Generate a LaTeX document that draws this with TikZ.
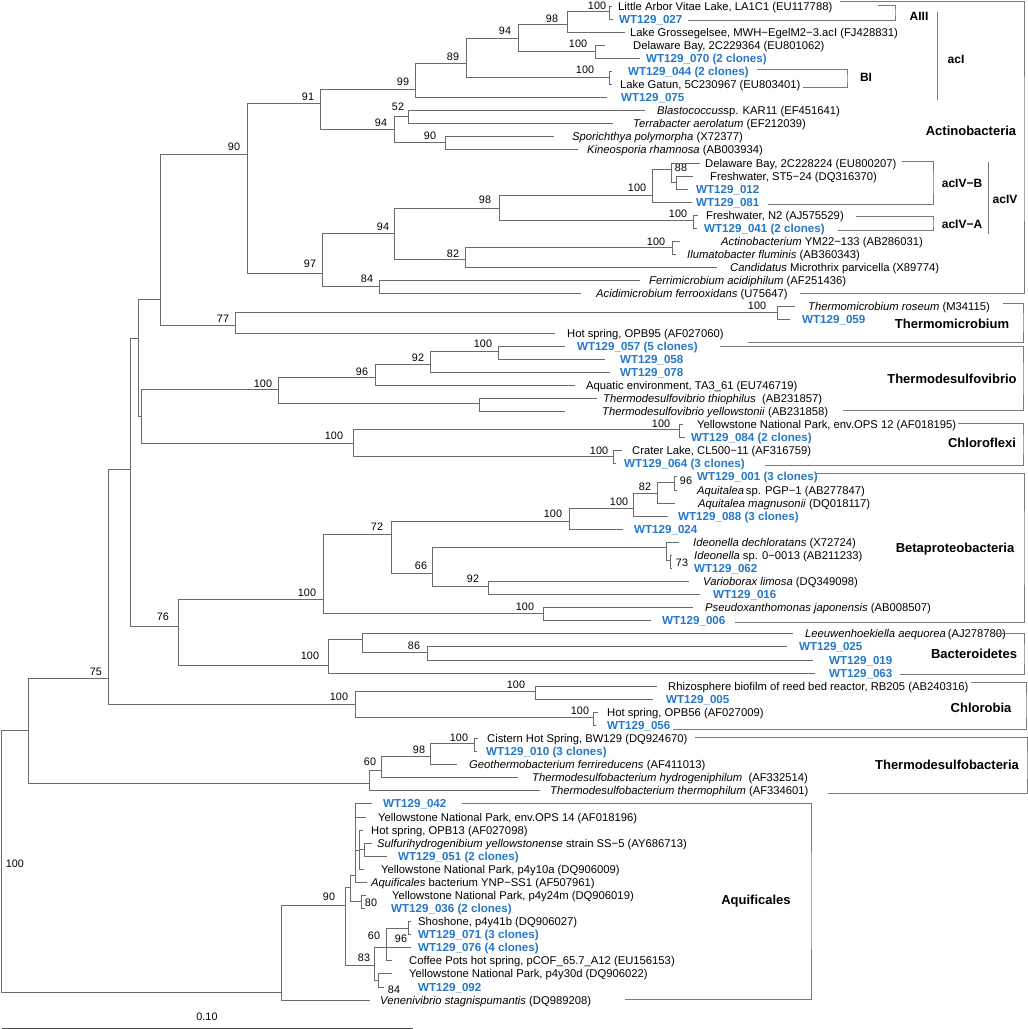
\documentclass[tikz,border=0pt]{standalone}
\usepackage{fontspec}
\setmainfont{Liberation Sans}
\usepackage{xcolor}
\usepackage{tikz}
\definecolor{wtblue}{RGB}{38,120,200}
\tikzset{
  br/.style={draw=black!58, line width=0.9pt},
  bx/.style={draw=black!52, line width=0.9pt},
  lab/.style={anchor=base west, yshift=-4pt, inner sep=0pt, font=\fontsize{11.25}{13}\selectfont},
  wt/.style={lab, text=wtblue, font=\fontsize{11.6}{13}\selectfont\bfseries},
  bs/.style={anchor=base, yshift=-3.9pt, inner sep=0pt, font=\fontsize{10.8}{12}\selectfont},
  clade/.style={anchor=base, yshift=-4.6pt, inner sep=0pt, font=\fontsize{13}{15}\selectfont\bfseries},
  sub/.style={anchor=base, yshift=-4.3pt, inner sep=0pt, font=\fontsize{12}{14}\selectfont\bfseries}
}
\begin{document}
\begin{tikzpicture}[x=1pt, y=-1pt]
\useasboundingbox (0,0) rectangle (1028,1029);

\coordinate (root) at (1,861);
\coordinate (nf) at (28,730);
\coordinate (nd) at (108,678);
\coordinate (nc) at (130,469);
\coordinate (na) at (138,338);
\coordinate (nat) at (160,299);
\coordinate (n90a) at (247,154);
\coordinate (n91) at (320,103);
\coordinate (n99) at (415,89);
\coordinate (n89) at (466,63);
\coordinate (n94a) at (518,38);
\coordinate (n98a) at (567,24);
\coordinate (n100a) at (609,11);
\coordinate (n100b) at (595,51);
\coordinate (n100c) at (609,77);
\coordinate (n94b) at (394,129);
\coordinate (n52) at (408,116);
\coordinate (n90b) at (445,142);
\coordinate (n97) at (322,273);
\coordinate (n94c) at (394,233);
\coordinate (n98b) at (499,208);
\coordinate (n100d) at (652,195);
\coordinate (n88) at (671,169);
\coordinate (nst) at (676,182);
\coordinate (n100e) at (693,220);
\coordinate (n82a) at (465,259);
\coordinate (n100f) at (672,247);
\coordinate (n84a) at (379,286);
\coordinate (n77) at (235,325);
\coordinate (n100g) at (777,312);
\coordinate (nb) at (141,416);
\coordinate (n100h) at (278,389);
\coordinate (n96a) at (375,377);
\coordinate (n92a) at (430,364);
\coordinate (n100i) at (498,351);
\coordinate (ntt) at (479,403);
\coordinate (n100j) at (353,443);
\coordinate (n100k) at (679,429);
\coordinate (n100l) at (613,456);
\coordinate (n76) at (178,626);
\coordinate (n100m) at (323,599);
\coordinate (n72) at (391,534);
\coordinate (n100n) at (569,521);
\coordinate (n100o) at (633,508);
\coordinate (n82b) at (657,493);
\coordinate (n96b) at (674,482);
\coordinate (n66) at (432,573);
\coordinate (nid) at (666,547);
\coordinate (n73) at (670,560);
\coordinate (n92b) at (488,586);
\coordinate (n100p) at (543,613);
\coordinate (n100q) at (328,665);
\coordinate (nlee) at (362,639);
\coordinate (n86) at (427,652);
\coordinate (n100r) at (355,704);
\coordinate (n100s) at (535,691);
\coordinate (n100t) at (593,717);
\coordinate (ne) at (369,783);
\coordinate (n60a) at (381,770);
\coordinate (n98c) at (430,756);
\coordinate (n100u) at (474,743);
\coordinate (ng) at (281,992);
\coordinate (n90c) at (345,905);
\coordinate (nm) at (350,887);
\coordinate (ni) at (355,875);
\coordinate (nj) at (359,850);
\coordinate (nk) at (364,849);
\coordinate (n80) at (361,901);
\coordinate (n83) at (374,965);
\coordinate (n60b) at (386,947);
\coordinate (n96c) at (408,928);
\coordinate (n84b) at (378,980);

\coordinate (l01) at (612,6.0);
\coordinate (l02) at (613,19.1);
\coordinate (l03) at (625,32.2);
\coordinate (l04) at (605,45.2);
\coordinate (l05) at (640,58.3);
\coordinate (l06) at (612,71.4);
\coordinate (l07) at (612,84.5);
\coordinate (l08) at (607,97.6);
\coordinate (l09) at (645,110.6);
\coordinate (l10) at (613,123.7);
\coordinate (l11) at (554,136.8);
\coordinate (l12) at (578,149.9);
\coordinate (l13) at (700,163.0);
\coordinate (l14) at (693,176.0);
\coordinate (l15) at (688,189.1);
\coordinate (l16) at (692,202.2);
\coordinate (l17) at (698,215.3);
\coordinate (l18) at (697,228.4);
\coordinate (l19) at (680,241.4);
\coordinate (l20) at (676,254.5);
\coordinate (l21) at (717,267.6);
\coordinate (l22) at (640,280.7);
\coordinate (l23) at (581,293.8);
\coordinate (l24) at (795,306.8);
\coordinate (l25) at (790,319.9);
\coordinate (l26) at (555,333.0);
\coordinate (l27) at (565,346.1);
\coordinate (l28) at (605,359.2);
\coordinate (l29) at (610,372.2);
\coordinate (l30) at (575,385.3);
\coordinate (l31) at (597,398.4);
\coordinate (l32) at (565,411.5);
\coordinate (l33) at (683,424.6);
\coordinate (l34) at (685,437.6);
\coordinate (l35) at (622,450.7);
\coordinate (l36) at (616,463.8);
\coordinate (l37) at (677,476.9);
\coordinate (l38) at (677,490.0);
\coordinate (l39) at (675,503.0);
\coordinate (l40) at (668,516.1);
\coordinate (l41) at (623,529.2);
\coordinate (l42) at (679,542.3);
\coordinate (l43) at (672,555.4);
\coordinate (l44) at (672,568.4);
\coordinate (l45) at (689,581.5);
\coordinate (l46) at (700,594.6);
\coordinate (l47) at (693,607.7);
\coordinate (l48) at (651,620.8);
\coordinate (l49) at (793,633.8);
\coordinate (l50) at (787,646.9);
\coordinate (l51) at (813,660.0);
\coordinate (l52) at (815,673.1);
\coordinate (l53) at (657,686.2);
\coordinate (l54) at (653,699.2);
\coordinate (l55) at (598,712.3);
\coordinate (l56) at (596,725.4);
\coordinate (l57) at (478,738.5);
\coordinate (l58) at (477,751.6);
\coordinate (l59) at (457,764.6);
\coordinate (l60) at (518,777.7);
\coordinate (l61) at (540,790.8);
\coordinate (l62) at (372,803.9);
\coordinate (l63) at (366,817.0);
\coordinate (l64) at (363,830.0);
\coordinate (l65) at (372,843.1);
\coordinate (l66) at (387,856.2);
\coordinate (l67) at (364,869.3);
\coordinate (l68) at (367,882.4);
\coordinate (l69) at (366,895.4);
\coordinate (l70) at (365,908.5);
\coordinate (l71) at (411,921.6);
\coordinate (l72) at (411,934.7);
\coordinate (l73) at (411,947.8);
\coordinate (l74) at (392,960.8);
\coordinate (l75) at (392,973.9);
\coordinate (l76) at (384,987.0);
\coordinate (l77) at (370,1000.1);

\node[lab] (t01) at (618,6.0) {Little Arbor Vitae Lake, LA1C1 (EU117788)};
\node[wt] (t02) at (619,19.1) {WT129\_027};
\node[lab] (t03) at (630,32.2) {Lake Grossegelsee, MWH−EgelM2−3.acI (FJ428831)};
\node[lab] (t04) at (633,45.2) {Delaware Bay, 2C229364 (EU801062)};
\node[wt] (t05) at (646,58.3) {WT129\_070 (2 clones)};
\node[wt] (t06) at (628,71.4) {WT129\_044 (2 clones)};
\node[lab] (t07) at (620,84.5) {Lake Gatun, 5C230967 (EU803401)};
\node[wt] (t08) at (621,97.6) {WT129\_075};
\node[lab] (t09) at (657,110.6) {\textit{Blastococcus}sp. KAR11 (EF451641)};
\node[lab] (t10) at (633,123.7) {\textit{Terrabacter aerolatum} (EF212039)};
\node[lab] (t11) at (572,136.8) {\textit{Sporichthya polymorpha} (X72377)};
\node[lab] (t12) at (587,149.9) {\textit{Kineosporia rhamnosa} (AB003934)};
\node[lab] (t13) at (705,163.0) {Delaware Bay, 2C228224 (EU800207)};
\node[lab] (t14) at (710,176.0) {Freshwater, ST5−24 (DQ316370)};
\node[wt] (t15) at (696,189.1) {WT129\_012};
\node[wt] (t16) at (696,202.2) {WT129\_081};
\node[lab] (t17) at (706,215.3) {Freshwater, N2 (AJ575529)};
\node[wt] (t18) at (704,228.4) {WT129\_041 (2 clones)};
\node[lab] (t19) at (721,241.4) {\textit{Actinobacterium} YM22−133 (AB286031)};
\node[lab] (t20) at (687,254.5) {\textit{Ilumatobacter fluminis} (AB360343)};
\node[lab] (t21) at (730,267.6) {\textit{Candidatus} Microthrix parvicella (X89774)};
\node[lab] (t22) at (649,280.7) {\textit{Ferrimicrobium acidiphilum} (AF251436)};
\node[lab] (t23) at (596,293.8) {\textit{Acidimicrobium ferrooxidans} (U75647)};
\node[lab] (t24) at (808,306.8) {\textit{Thermomicrobium roseum} (M34115)};
\node[wt] (t25) at (802,319.9) {WT129\_059};
\node[lab] (t26) at (567,333.0) {Hot spring, OPB95 (AF027060)};
\node[wt] (t27) at (577,346.1) {WT129\_057 (5 clones)};
\node[wt] (t28) at (620,359.2) {WT129\_058};
\node[wt] (t29) at (620,372.2) {WT129\_078};
\node[lab] (t30) at (586,385.3) {Aquatic environment, TA3\_61 (EU746719)};
\node[lab] (t31) at (603,398.4) {\textit{Thermodesulfovibrio thiophilus}\ \ (AB231857)};
\node[lab] (t32) at (602,411.5) {\textit{Thermodesulfovibrio yellowstonii} (AB231858)};
\node[lab] (t33) at (697,424.6) {Yellowstone National Park, env.OPS 12 (AF018195)};
\node[wt] (t34) at (691,437.6) {WT129\_084 (2 clones)};
\node[lab] (t35) at (632,450.7) {Crater Lake, CL500−11 (AF316759)};
\node[wt] (t36) at (624,463.8) {WT129\_064 (3 clones)};
\node[wt] (t37) at (697,476.9) {WT129\_001 (3 clones)};
\node[lab] (t38) at (697,490.0) {\textit{Aquitalea}\,sp. PGP−1 (AB277847)};
\node[lab] (t39) at (698,503.0) {\textit{Aquitalea magnusonii} (DQ018117)};
\node[wt] (t40) at (678,516.1) {WT129\_088 (3 clones)};
\node[wt] (t41) at (634,529.2) {WT129\_024};
\node[lab] (t42) at (693,542.3) {\textit{Ideonella dechloratans} (X72724)};
\node[lab] (t43) at (694,555.4) {\textit{Ideonella} sp. 0−0013 (AB211233)};
\node[wt] (t44) at (694,568.4) {WT129\_062};
\node[lab] (t45) at (703,581.5) {\textit{Varioborax limosa} (DQ349098)};
\node[wt] (t46) at (713,594.6) {WT129\_016};
\node[lab] (t47) at (705,607.7) {\textit{Pseudoxanthomonas japonensis} (AB008507)};
\node[wt] (t48) at (662,620.8) {WT129\_006};
\node[lab] (t49) at (805,633.8) {\textit{Leeuwenhoekiella aequorea}\,(AJ278780)};
\node[wt] (t50) at (799,646.9) {WT129\_025};
\node[wt] (t51) at (829,660.0) {WT129\_019};
\node[wt] (t52) at (829,673.1) {WT129\_063};
\node[lab] (t53) at (668,686.2) {Rhizosphere biofilm of reed bed reactor, RB205 (AB240316)};
\node[wt] (t54) at (666,699.2) {WT129\_005};
\node[lab] (t55) at (607,712.3) {Hot spring, OPB56 (AF027009)};
\node[wt] (t56) at (607,725.4) {WT129\_056};
\node[lab] (t57) at (487,738.5) {Cistern Hot Spring, BW129 (DQ924670)};
\node[wt] (t58) at (486,751.6) {WT129\_010 (3 clones)};
\node[lab] (t59) at (469,764.6) {\textit{Geothermobacterium ferrireducens} (AF411013)};
\node[lab] (t60) at (532,777.7) {\textit{Thermodesulfobacterium hydrogeniphilum}\ \ (AF332514)};
\node[lab] (t61) at (550,790.8) {\textit{Thermodesulfobacterium thermophilum} (AF334601)};
\node[wt] (t62) at (383,803.9) {WT129\_042};
\node[lab] (t63) at (378,817.0) {Yellowstone National Park, env.OPS 14 (AF018196)};
\node[lab] (t64) at (371,830.0) {Hot spring, OPB13 (AF027098)};
\node[lab] (t65) at (377,843.1) {\textit{Sulfurihydrogenibium yellowstonense} strain SS−5 (AY686713)};
\node[wt] (t66) at (398,856.2) {WT129\_051 (2 clones)};
\node[lab] (t67) at (381,869.3) {Yellowstone National Park, p4y10a (DQ906009)};
\node[lab] (t68) at (371,882.4) {\textit{Aquificales} bacterium YNP−SS1 (AF507961)};
\node[lab] (t69) at (392,895.4) {Yellowstone National Park, p4y24m (DQ906019)};
\node[wt] (t70) at (391,908.5) {WT129\_036 (2 clones)};
\node[lab] (t71) at (418,921.6) {Shoshone, p4y41b (DQ906027)};
\node[wt] (t72) at (418,934.7) {WT129\_071 (3 clones)};
\node[wt] (t73) at (418,947.8) {WT129\_076 (4 clones)};
\node[lab] (t74) at (409,960.8) {Coffee Pots hot spring, pCOF\_65.7\_A12 (EU156153)};
\node[lab] (t75) at (409,973.9) {Yellowstone National Park, p4y30d (DQ906022)};
\node[wt] (t76) at (418,987.0) {WT129\_092};
\node[lab] (t77) at (380,1000.1) {\textit{Venenivibrio stagnispumantis} (DQ989208)};

\node[bs] (b01) at (597,6) {100};
\node[bs] (b02) at (552,19) {98};
\node[bs] (b03) at (505,31) {94};
\node[bs] (b04) at (578,44) {100};
\node[bs] (b05) at (453,57) {89};
\node[bs] (b06) at (585,70) {100};
\node[bs] (b07) at (403,82) {99};
\node[bs] (b08) at (308,97) {91};
\node[bs] (b09) at (398,107) {52};
\node[bs] (b10) at (381,123) {94};
\node[bs] (b11) at (430,136) {90};
\node[bs] (b12) at (234,147) {90};
\node[bs] (b13) at (681,168) {88};
\node[bs] (b14) at (637,188) {100};
\node[bs] (b15) at (485,200) {98};
\node[bs] (b16) at (678,214) {100};
\node[bs] (b17) at (383,227) {94};
\node[bs] (b18) at (656,242) {100};
\node[bs] (b19) at (453,254) {82};
\node[bs] (b20) at (310,264) {97};
\node[bs] (b21) at (367,279) {84};
\node[bs] (b22) at (757,306) {100};
\node[bs] (b23) at (223,319) {77};
\node[bs] (b24) at (483,344) {100};
\node[bs] (b25) at (418,358) {92};
\node[bs] (b26) at (362,372) {96};
\node[bs] (b27) at (263,384) {100};
\node[bs] (b28) at (661,424) {100};
\node[bs] (b29) at (334,436) {100};
\node[bs] (b30) at (599,451) {100};
\node[bs] (b31) at (686,481) {96};
\node[bs] (b32) at (645,487) {82};
\node[bs] (b33) at (619,502) {100};
\node[bs] (b34) at (553,514) {100};
\node[bs] (b35) at (377,527) {72};
\node[bs] (b36) at (682,563) {73};
\node[bs] (b37) at (421,566) {66};
\node[bs] (b38) at (473,579) {92};
\node[bs] (b39) at (307,593) {100};
\node[bs] (b40) at (525,607) {100};
\node[bs] (b41) at (163,617) {76};
\node[bs] (b42) at (414,646) {86};
\node[bs] (b43) at (310,656) {100};
\node[bs] (b44) at (96,672) {75};
\node[bs] (b45) at (516,685) {100};
\node[bs] (b46) at (339,697) {100};
\node[bs] (b47) at (580,711) {100};
\node[bs] (b48) at (459,738) {100};
\node[bs] (b49) at (419,750) {98};
\node[bs] (b50) at (370,762) {60};
\node[bs] (b51) at (15,864) {100};
\node[bs] (b52) at (329,897) {90};
\node[bs] (b53) at (371,903) {80};
\node[bs] (b54) at (374,936) {60};
\node[bs] (b55) at (401,939) {96};
\node[bs] (b56) at (364,958) {83};
\node[bs] (b57) at (394,990) {84};

\draw[br] (root) |- (nf) (root) |- (ng);
\draw[br] (nf) |- (nd) (nf) |- (ne);
\draw[br] (nd) |- (nc) (nd) |- (n100r);
\draw[br] (nc) |- (na) (nc) |- (n76);
\draw[br] (na) |- (nat) (na) |- (nb);
\draw[br] (nat) |- (n90a) (nat) |- (n77);
\draw[br] (n90a) |- (n91) (n90a) |- (n97);
\draw[br] (n91) |- (n99) (n91) |- (n94b);
\draw[br] (n99) |- (n89) (n99) |- (l08);
\draw[br] (n89) |- (n94a) (n89) |- (n100c);
\draw[br] (n94a) |- (n98a) (n94a) |- (n100b);
\draw[br] (n98a) |- (n100a) (n98a) |- (l03);
\draw[br] (n100a) |- (l01) (n100a) |- (l02);
\draw[br] (n100b) |- (l04) (n100b) |- (l05);
\draw[br] (n100c) |- (l06) (n100c) |- (l07);
\draw[br] (n94b) |- (n52) (n94b) |- (n90b);
\draw[br] (n52) |- (l09) (n52) |- (l10);
\draw[br] (n90b) |- (l11) (n90b) |- (l12);
\draw[br] (n97) |- (n94c) (n97) |- (n84a);
\draw[br] (n94c) |- (n98b) (n94c) |- (n82a);
\draw[br] (n98b) |- (n100d) (n98b) |- (n100e);
\draw[br] (n100d) |- (n88) (n100d) |- (l16);
\draw[br] (n88) |- (l13) (n88) |- (nst);
\draw[br] (nst) |- (l14) (nst) |- (l15);
\draw[br] (n100e) |- (l17) (n100e) |- (l18);
\draw[br] (n82a) |- (n100f) (n82a) |- (l21);
\draw[br] (n100f) |- (l19) (n100f) |- (l20);
\draw[br] (n84a) |- (l22) (n84a) |- (l23);
\draw[br] (n77) |- (n100g) (n77) |- (l26);
\draw[br] (n100g) |- (l24) (n100g) |- (l25);
\draw[br] (nb) |- (n100h) (nb) |- (n100j);
\draw[br] (n100h) |- (n96a) (n100h) |- (ntt);
\draw[br] (n96a) |- (n92a) (n96a) |- (l30);
\draw[br] (n92a) |- (n100i) (n92a) |- (l29);
\draw[br] (n100i) |- (l27) (n100i) |- (l28);
\draw[br] (ntt) |- (l31) (ntt) |- (l32);
\draw[br] (n100j) |- (n100k) (n100j) |- (n100l);
\draw[br] (n100k) |- (l33) (n100k) |- (l34);
\draw[br] (n100l) |- (l35) (n100l) |- (l36);
\draw[br] (n76) |- (n100m) (n76) |- (n100q);
\draw[br] (n100m) |- (n72) (n100m) |- (n100p);
\draw[br] (n72) |- (n100n) (n72) |- (n66);
\draw[br] (n100n) |- (n100o) (n100n) |- (l41);
\draw[br] (n100o) |- (n82b) (n100o) |- (l40);
\draw[br] (n82b) |- (n96b) (n82b) |- (l39);
\draw[br] (n96b) |- (l37) (n96b) |- (l38);
\draw[br] (n66) |- (nid) (n66) |- (n92b);
\draw[br] (nid) |- (l42) (nid) |- (n73);
\draw[br] (n73) |- (l43) (n73) |- (l44);
\draw[br] (n92b) |- (l45) (n92b) |- (l46);
\draw[br] (n100p) |- (l47) (n100p) |- (l48);
\draw[br] (n100q) |- (nlee) (n100q) |- (l52);
\draw[br] (nlee) |- (l49) (nlee) |- (n86);
\draw[br] (n86) |- (l50) (n86) |- (l51);
\draw[br] (n100r) |- (n100s) (n100r) |- (n100t);
\draw[br] (n100s) |- (l53) (n100s) |- (l54);
\draw[br] (n100t) |- (l55) (n100t) |- (l56);
\draw[br] (ne) |- (n60a) (ne) |- (l61);
\draw[br] (n60a) |- (n98c) (n60a) |- (l60);
\draw[br] (n98c) |- (n100u) (n98c) |- (l59);
\draw[br] (n100u) |- (l57) (n100u) |- (l58);
\draw[br] (ng) |- (n90c) (ng) |- (l77);
\draw[br] (n90c) |- (nm) (n90c) |- (n83);
\draw[br] (nm) |- (ni) (nm) |- (n80);
\draw[br] (ni) |- (l62) (ni) |- (l63) (ni) |- (nj) (ni) |- (l68);
\draw[br] (nj) |- (l64) (nj) |- (nk) (nj) |- (l67);
\draw[br] (nk) |- (l65) (nk) |- (l66);
\draw[br] (n80) |- (l69) (n80) |- (l70);
\draw[br] (n83) |- (n60b) (n83) |- (n84b);
\draw[br] (n60b) |- (n96c) (n60b) |- (l73) (n60b) |- (l74);
\draw[br] (n96c) |- (l71) (n96c) |- (l72);
\draw[br] (n84b) |- (l75) (n84b) |- (l76);

\coordinate (actT) at (840,1.5);
\coordinate (actR) at (1024,150);
\coordinate (actB) at (800,293.8);
\coordinate (aiiiT) at (878,5.5);
\coordinate (aiiiR) at (895,12);
\coordinate (aiiiB) at (688,20.5);
\coordinate (biT) at (757,69.5);
\coordinate (biR) at (847,78);
\coordinate (biB) at (803,87.5);
\coordinate (aciT) at (937,12);
\coordinate (aciB) at (937,100);
\coordinate (acivbT) at (902,161);
\coordinate (acivbR) at (933,183);
\coordinate (acivbB) at (768,204);
\coordinate (acivaT) at (856,216);
\coordinate (acivaR) at (933,223);
\coordinate (acivaB) at (838,230);
\coordinate (acivT) at (988,162);
\coordinate (acivB) at (988,234);
\coordinate (tmT) at (1003,303);
\coordinate (tmR) at (1023,322);
\coordinate (tmB) at (748,342);
\coordinate (tdvT) at (720,346.5);
\coordinate (tdvR) at (1023,378);
\coordinate (tdvB) at (843,410.5);
\coordinate (cfT) at (958,423);
\coordinate (cfR) at (1023,444);
\coordinate (cfB) at (765,465);
\coordinate (btT) at (815,473);
\coordinate (btR) at (1024,548);
\coordinate (btB) at (735,622);
\coordinate (bcT) at (990,633);
\coordinate (bcR) at (1024,654);
\coordinate (bcB) at (900,674);
\coordinate (clT) at (971,682);
\coordinate (clR) at (1026,706);
\coordinate (clB) at (673,729);
\coordinate (tdbT) at (695,737);
\coordinate (tdbR) at (1027,765);
\coordinate (tdbB) at (828,793);
\coordinate (aqT) at (462,803.5);
\coordinate (aqR) at (811,900);
\coordinate (aqB) at (625,999);

\draw[bx] (actT) -| (actR) |- (actB);
\draw[bx] (aiiiT) -| (aiiiR) |- (aiiiB);
\draw[bx] (biT) -| (biR) |- (biB);
\draw[bx] (aciT) -- (aciB);
\draw[bx] (acivbT) -| (acivbR) |- (acivbB);
\draw[bx] (acivaT) -| (acivaR) |- (acivaB);
\draw[bx] (acivT) -- (acivB);
\draw[bx] (tmT) -| (tmR) |- (tmB);
\draw[bx] (tdvT) -| (tdvR) |- (tdvB);
\draw[bx] (cfT) -| (cfR) |- (cfB);
\draw[bx] (btT) -| (btR) |- (btB);
\draw[bx] (bcT) -| (bcR) |- (bcB);
\draw[bx] (clT) -| (clR) |- (clB);
\draw[bx] (tdbT) -| (tdbR) |- (tdbB);
\draw[bx] (aqT) -| (aqR) |- (aqB);

\node[sub] (aiii) at (919,16) {AIII};
\node[sub] (aci) at (956,59) {acI};
\node[sub] (bi) at (866,77) {BI};
\node[clade] (actino) at (971,131) {Actinobacteria};
\node[sub] (acivb) at (962,183) {acIV−B};
\node[sub] (aciva) at (962,224) {acIV−A};
\node[sub] (aciv) at (1005,199) {acIV};
\node[clade] (thmic) at (952,324) {Thermomicrobium};
\node[clade] (thdv) at (952,379) {Thermodesulfovibrio};
\node[clade] (chlfx) at (982,443) {Chloroflexi};
\node[clade] (betap) at (955,548) {Betaproteobacteria};
\node[clade] (bactd) at (974,654) {Bacteroidetes};
\node[clade] (chlrb) at (981,708) {Chlorobia};
\node[clade] (thdb) at (947,765) {Thermodesulfobacteria};
\node[clade] (aquif) at (756,900) {Aquificales};

\coordinate (sbL) at (2,1028);
\coordinate (sbR) at (413,1028);
\draw[draw=black!70, line width=0.9pt] (sbL) -- (sbR);
\node[bs] (sbt) at (207,1017) {0.10};

\end{tikzpicture}
\end{document}
